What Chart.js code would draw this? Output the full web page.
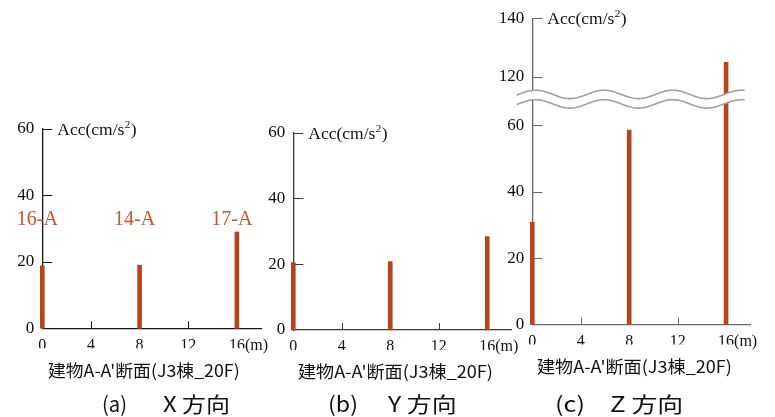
<!DOCTYPE html>
<html>
<head>
<meta charset="utf-8">
<script src="https://cdn.jsdelivr.net/npm/chart.js@4/dist/chart.umd.min.js"></script>
<style>
  html, body { margin: 0; padding: 0; background: #fff; }
  #wrap { position: relative; width: 775px; height: 417px; overflow: hidden; }
  #wrap canvas { position: absolute; left: 0; top: 0; }
  .cap { position: absolute; white-space: nowrap; font-family: "Noto Sans CJK JP", sans-serif;
         color: #111; transform-origin: 0 50%; display: inline-block; }
</style>
</head>
<body>
<div id="wrap">
  <canvas id="panelX" width="775" height="417"></canvas>
  <canvas id="panelY" width="775" height="417"></canvas>
  <canvas id="panelZ" width="775" height="417"></canvas>
</div>
<script>
// Peak acceleration along section A-A' (J3 building, 20F)
const positions  = [0, 8, 16];               // m
const gridLabels = ['16-A', '14-A', '17-A'];
const accX = [18.8, 19.0, 29.0];             // cm/s^2
const accY = [20.5, 20.8, 28.4];
const accZ = [30.8, 58.6, 125.0];
const xTicks   = [0, 4, 8, 12, 16];
const yTicksXY = [0, 20, 40, 60];
const yTicksZ  = [0, 20, 40, 60, 120, 140];

const BAR_COLOR = '#b5461c';
const LABEL_COLOR = '#c4582c';
const SERIF = '"Liberation Serif", "Times New Roman", serif';
const X_FONT = 16;

// Broken vertical axis for the Z panel: 0-60 linear, then jump to 120-140
const BREAK_LOW = 60, BREAK_HIGH = 120;
const UPPER_BASE = 74.6, UPPER_RATIO = 0.885;
function zAxisValue(v) {
  if (v <= BREAK_LOW) return v;
  return UPPER_BASE + (v - BREAK_HIGH) * UPPER_RATIO;
}
const identity = v => v;

// Inward tick marks, axis title, unit label, grid-line names and break wave
const panelDecor = {
  id: 'panelDecor',
  beforeDatasetsDraw(chart, args, o) {
    const ctx = chart.ctx, xs = chart.scales.x, ys = chart.scales.y;
    const ax = xs.getPixelForValue(0), ay = ys.getPixelForValue(0);
    ctx.save();
    ctx.strokeStyle = o.axisColor;
    ctx.lineWidth = 1;
    ys.ticks.forEach(t => {
      if (t.value === 0) return;
      const py = Math.round(ys.getPixelForValue(t.value)) + 0.5;
      ctx.beginPath(); ctx.moveTo(ax, py); ctx.lineTo(ax + 10, py); ctx.stroke();
    });
    xs.ticks.forEach(t => {
      if (t.value === 0) return;
      const px = Math.round(xs.getPixelForValue(t.value)) + 0.5;
      ctx.beginPath(); ctx.moveTo(px, ay); ctx.lineTo(px, ay - 7); ctx.stroke();
    });
    ctx.restore();
  },
  afterDatasetsDraw(chart, args, o) {
    const ctx = chart.ctx, xs = chart.scales.x, ys = chart.scales.y;
    const ax = xs.getPixelForValue(0);
    ctx.save();

    // broken-axis wave
    if (o.breakWave) {
      const yMid = (ys.getPixelForValue(zAxisValue(BREAK_LOW)) + ys.getPixelForValue(zAxisValue(BREAK_HIGH))) / 2 - 2;
      const pxPerM = xs.getPixelForValue(1) - xs.getPixelForValue(0);
      const xa = xs.getPixelForValue(-1.3), xb = xs.getPixelForValue(17.6);
      const xPeak = xs.getPixelForValue(5.93), period = 5.66 * pxPerM, amp = 4.2, gap = 4.75;
      const wave = (x, off) => yMid + off - amp * Math.cos(2 * Math.PI * (x - xPeak) / period);
      ctx.beginPath();
      for (let x = xa; x <= xb; x += 1) ctx.lineTo(x, wave(x, -gap));
      for (let x = xb; x >= xa; x -= 1) ctx.lineTo(x, wave(x, gap));
      ctx.closePath();
      ctx.fillStyle = '#fff';
      ctx.fill();
      ctx.strokeStyle = '#a0a0a0';
      ctx.lineWidth = 1.6;
      [-gap, gap].forEach(off => {
        ctx.beginPath();
        for (let x = xa; x <= xb; x += 1) ctx.lineTo(x, wave(x, off));
        ctx.stroke();
      });
    }

    // grid-line names above the columns
    if (o.gridNames) {
      ctx.fillStyle = LABEL_COLOR;
      ctx.font = '20px ' + SERIF;
      ctx.textAlign = 'center';
      ctx.textBaseline = 'alphabetic';
      const by = ys.getPixelForValue(31.1);
      positions.forEach((p, i) => ctx.fillText(gridLabels[i], xs.getPixelForValue(p) - 5, by));
    }

    // axis title next to the top tick
    const topTick = ys.ticks[ys.ticks.length - 1].value;
    const ty = ys.getPixelForValue(topTick);
    ctx.fillStyle = '#111';
    ctx.textAlign = 'left';
    ctx.textBaseline = 'alphabetic';
    ctx.font = '17.5px ' + SERIF;
    let tx = ax + 15;
    const base = ty + 5.8;
    ctx.fillText('Acc(cm/s', tx, base);
    tx += ctx.measureText('Acc(cm/s').width;
    ctx.font = '11px ' + SERIF;
    ctx.fillText('2', tx + 0.5, base - 7);
    tx += ctx.measureText('2').width + 1;
    ctx.font = '17.5px ' + SERIF;
    ctx.fillText(')', tx, base);

    // unit after the last x tick label (same line as the tick labels)
    ctx.font = X_FONT + 'px ' + SERIF;
    const lastX = xTicks[xTicks.length - 1];
    const lw = ctx.measureText(String(lastX)).width;
    const lx = xs.getPixelForValue(lastX) + lw / 2;
    ctx.textBaseline = 'middle';
    ctx.fillText('(m)', lx, xs.top + o.xPad + X_FONT * 1.2 / 2);
    ctx.restore();
  }
};

function makePanel(id, cfg) {
  const map = cfg.yMap || identity;
  const yTicks = cfg.yTicks;
  return new Chart(document.getElementById(id), {
    type: 'bar',
    data: {
      datasets: [{
        data: positions.map((p, i) => ({ x: p, y: map(cfg.values[i]) })),
        backgroundColor: BAR_COLOR,
        barThickness: 4,
        clip: false
      }]
    },
    options: {
      responsive: false,
      animation: false,
      events: [],
      layout: { padding: cfg.pad },
      plugins: {
        legend: { display: false },
        tooltip: { enabled: false },
        panelDecor: { axisColor: cfg.axisColor, gridNames: !!cfg.gridNames, breakWave: !!cfg.breakWave, xPad: cfg.xPad }
      },
      scales: {
        x: {
          type: 'linear', min: 0, max: 18, offset: false,
          afterBuildTicks: s => { s.ticks = xTicks.map(v => ({ value: v })); },
          afterFit: s => { s.height = 20; },
          grid: { display: false, drawTicks: false, offset: false },
          border: { display: true, color: cfg.axisColor, width: 1.3 },
          ticks: { color: '#111', font: { family: SERIF, size: X_FONT }, padding: cfg.xPad,
                   maxRotation: 0, autoSkip: false, callback: v => String(v) }
        },
        y: {
          type: 'linear', min: 0, max: map(yTicks[yTicks.length - 1]),
          afterBuildTicks: s => { s.ticks = yTicks.map(v => ({ value: map(v) })); },
          afterFit: s => { s.width = 42; },
          grid: { display: false, drawTicks: false },
          border: { display: true, color: cfg.axisColor, width: 1.3 },
          ticks: { color: '#111', font: { family: SERIF, size: 17 }, padding: 8,
                   autoSkip: false, callback: (v, i) => String(yTicks[i]) }
        }
      }
    },
    plugins: [panelDecor]
  });
}

makePanel('panelX', {
  values: accX, yTicks: yTicksXY, axisColor: '#161616', gridNames: true, xPad: 8,
  pad: { left: 0.3, top: 129, right: 513.8, bottom: 68.7 }
});
makePanel('panelY', {
  values: accY, yTicks: yTicksXY, axisColor: '#3a3a3a', xPad: 7,
  pad: { left: 251.3, top: 132.7, right: 263.5, bottom: 67 }
});
makePanel('panelZ', {
  values: accZ, yTicks: yTicksZ, yMap: zAxisValue, axisColor: '#6a6a6a', breakWave: true, xPad: 7.4,
  pad: { left: 490.3, top: 16.5, right: 24.7, bottom: 72.5 }
});

// Captions under each panel
const captions = [
  { text: "建物A-A'断面(J3棟_20F)", left: 48.3, right: 240,   cy: 370,   size: 17 },
  { text: "建物A-A'断面(J3棟_20F)", left: 298.3, right: 493.3, cy: 371.7, size: 17 },
  { text: "建物A-A'断面(J3棟_20F)", left: 536.7, right: 731.7, cy: 366.7, size: 17 },
  { text: "(a)",   left: 101.7, right: 126.7, cy: 405, size: 21 },
  { text: "X 方向", left: 163,   right: 230,   cy: 405, size: 21 },
  { text: "(b)",   left: 328,   right: 358,   cy: 405, size: 21 },
  { text: "Y 方向", left: 388,   right: 456.7, cy: 405, size: 21 },
  { text: "(c)",   left: 555,   right: 585,   cy: 405, size: 21 },
  { text: "Z 方向", left: 610,   right: 683.3, cy: 405, size: 21 }
];
const wrap = document.getElementById('wrap');
captions.forEach(c => {
  const el = document.createElement('span');
  el.className = 'cap';
  el.textContent = c.text;
  el.style.fontSize = c.size + 'px';
  el.style.lineHeight = c.size + 'px';
  el.style.left = c.left + 'px';
  el.style.top = (c.cy - c.size * 0.556) + 'px';
  wrap.appendChild(el);
  const w = el.getBoundingClientRect().width;
  el.style.transform = 'scaleX(' + ((c.right - c.left) / w).toFixed(4) + ')';
});
</script>
</body>
</html>
